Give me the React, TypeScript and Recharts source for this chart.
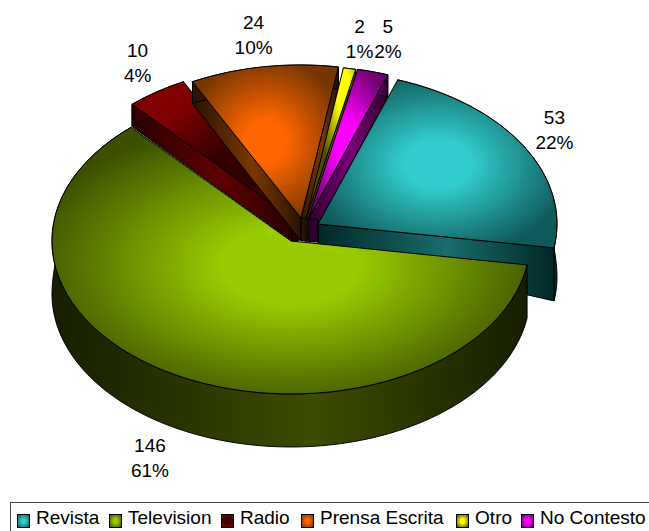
import React from 'react';
import { PieChart, Pie, Legend } from 'recharts';

const categories = ['Revista', 'Television', 'Radio', 'Prensa Escrita', 'Otro', 'No Contesto'];
const counts = [53, 146, 10, 24, 2, 5];

const pieData = categories.map((name, i) => ({ name, value: counts[i] }));

// look of each slice
const topColors = [
  ['#33CCCC', '#0F5A5A'],
  ['#99CC00', '#3C5000'],
  ['#330000', '#800000'],
  ['#FF6600', '#773600'],
  ['#FFFF00', '#4A4A00'],
  ['#FF00FF', '#700070'],
];
const topCenters = [
  [0.5, 0.5],
  [0.5, 0.52],
  [0.62, 0.66],
  [0.5, 0.5],
  [0.75, 0.15],
  [0.5, 0.5],
];
const wallColors = [
  ['#012828', '#1A6C6C'],
  ['#161E00', '#3C4C00'],
  ['#2A0000', '#5E0000'],
  ['#2A1200', '#7A3800'],
  ['#2E2E00', '#6A6A00'],
  ['#2C002C', '#7A007A'],
];
// how far every slice is pulled out of the pie
const explode = [
  [27, -17],
  [0, 0],
  [1, -23],
  [10, -23],
  [15, -22],
  [17, -22],
];
// width of the block showing under the tip of a slice
const tipBlock = [0, 0, 7, 6, 0, 10];
const labelNudge = [
  [31, -16],
  [-27, 83],
  [-19, -29],
  [-10, -32],
  [10, -30],
  [15, -33],
];
const legendGaps = [0, 9.7, 9.5, 11.4, 12.5, 9];

const TILT = 0.64;
const TIP_DEPTH = 23;
const rad = (d: number) => (d * Math.PI) / 180;

// the pie is thicker at the front than at the back
const depthAt = (a: number) => {
  const t = Math.min(1, Math.max(0, (-Math.sin(rad(a)) + 0.75) / 0.7));
  return 22 + 31 * t;
};

const Slice3D = (props: any) => {
  const { cx, cy, outerRadius: r, startAngle, endAngle } = props;
  const i = categories.indexOf(props.name ?? props.payload?.name);
  const x0 = cx + explode[i][0];
  const y0 = cy + explode[i][1];
  const px = (a: number) => x0 + r * Math.cos(rad(a));
  const py = (a: number) => y0 - r * TILT * Math.sin(rad(a));
  const large = startAngle - endAngle > 180 ? 1 : 0;
  const top = `M${x0},${y0} L${px(startAngle)},${py(startAngle)} A${r},${r * TILT} 0 ${large} 1 ${px(endAngle)},${py(endAngle)} Z`;

  const upper = [];
  const lower = [];
  for (let a = startAngle; a > endAngle; a -= 1) {
    upper.push(`${px(a)},${py(a)}`);
    lower.unshift(`${px(a)},${py(a) + depthAt(a)}`);
  }
  upper.push(`${px(endAngle)},${py(endAngle)}`);
  lower.unshift(`${px(endAngle)},${py(endAngle) + depthAt(endAngle)}`);

  const face = (a: number) =>
    `${x0},${y0} ${px(a)},${py(a)} ${px(a)},${py(a) + depthAt(a)} ${x0},${y0 + TIP_DEPTH}`;
  const startVisible = Math.cos(rad(startAngle)) < 0;
  const endVisible = Math.cos(rad(endAngle)) > 0;

  const wallFill = `url(#wall-${i})`;
  return (
    <g stroke="#000" strokeWidth={1} strokeLinejoin="round">
      {startVisible && <polygon points={face(startAngle)} fill={wallFill} />}
      {endVisible && <polygon points={face(endAngle)} fill={wallFill} />}
      <polygon points={[...upper, ...lower].join(' ')} fill={wallFill} />
      {tipBlock[i] > 0 && (
        <rect x={x0} y={y0} width={tipBlock[i]} height={TIP_DEPTH} fill={wallColors[i][0]} />
      )}
      <path d={top} fill={`url(#top-${i})`} />
    </g>
  );
};

const renderLabel = (props: any) => {
  const { cx, cy, outerRadius: r, midAngle, percent, value, index } = props;
  const x = cx + explode[index][0] + r * Math.cos(rad(midAngle)) + labelNudge[index][0];
  const y = cy + explode[index][1] - r * TILT * Math.sin(rad(midAngle)) + labelNudge[index][1];
  return (
    <text x={x} y={y} textAnchor="middle" fontSize={19} fill="#000" stroke="none" fontFamily="Liberation Sans">
      <tspan x={x} dy={-6}>{value}</tspan>
      <tspan x={x} dy={25}>{`${Math.round(percent * 100)}%`}</tspan>
    </text>
  );
};

const renderLegend = () => (
  <div
    style={{
      display: 'flex',
      boxSizing: 'border-box',
      height: 29,
      width: 639,
      paddingLeft: 6,
      paddingTop: 2,
      alignItems: 'center',
      borderTop: '1px solid #444',
      borderLeft: '1px solid #444',
      background: '#fff',
      font: '19px "Liberation Sans"',
      color: '#000',
      whiteSpace: 'nowrap',
    }}
  >
    {categories.map((name, i) => (
      <span key={name} style={{ display: 'flex', alignItems: 'center', marginLeft: legendGaps[i] }}>
        <span
          style={{
            display: 'inline-block',
            boxSizing: 'border-box',
            width: 13,
            height: 14,
            marginTop: 5,
            marginRight: 6,
            border: '1px solid #000',
            background: `radial-gradient(${topColors[i][0]} 25%, ${topColors[i][1]})`,
          }}
        />
        {name}
      </span>
    ))}
  </div>
);

export default function App() {
  return (
    <div style={{ position: 'absolute', left: 0, top: 0, width: 649, height: 531 }}>
      <PieChart width={649} height={531} margin={{ top: 0, right: 0, bottom: 0, left: 0 }}>
        <defs>
          {categories.map((name, i) => (
            <radialGradient key={name} id={`top-${i}`} cx={topCenters[i][0]} cy={topCenters[i][1]} r={0.56}>
              <stop offset="0%" stopColor={topColors[i][0]} />
              <stop offset="25%" stopColor={topColors[i][0]} />
              <stop offset="100%" stopColor={topColors[i][1]} />
            </radialGradient>
          ))}
          {categories.map((name, i) => (
            <linearGradient key={name} id={`wall-${i}`} x1={0} y1={0} x2={1} y2={0}>
              <stop offset="0%" stopColor={wallColors[i][0]} />
              <stop offset="55%" stopColor={wallColors[i][1]} />
              <stop offset="100%" stopColor={wallColors[i][0]} />
            </linearGradient>
          ))}
        </defs>
        <Pie
          data={pieData}
          dataKey="value"
          nameKey="name"
          cx={291}
          cy={241}
          innerRadius={0}
          outerRadius={239}
          startAngle={70.5}
          endAngle={-289.5}
          stroke="none"
          shape={Slice3D}
          label={renderLabel}
          labelLine={false}
          isAnimationActive={false}
        />
        <Legend content={renderLegend} wrapperStyle={{ left: 10, top: 502, bottom: 'auto', width: 639 }} />
      </PieChart>
    </div>
  );
}
